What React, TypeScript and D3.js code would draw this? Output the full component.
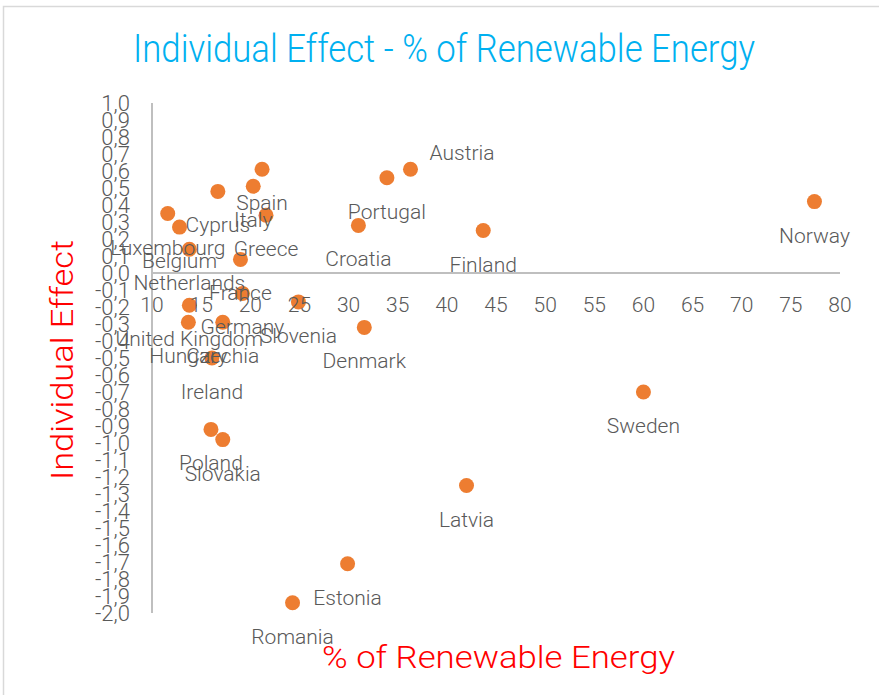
import React from "react";
import * as d3 from "d3";

const countries = [
  "Austria", "Portugal", "Croatia", "Finland", "Norway", "Sweden", "Latvia",
  "Estonia", "Romania", "Denmark", "Slovenia", "Poland", "Slovakia", "Ireland",
  "Hungary", "Czechia", "United Kingdom", "Germany", "France", "Netherlands",
  "Belgium", "Luxembourg", "Greece", "Cyprus", "Italy", "Spain",
];
const renewableShare = [
  36.3, 33.9, 31.0, 43.7, 77.4, 60.0, 42.0,
  29.9, 24.3, 31.6, 24.9, 16.0, 17.2, 16.1,
  13.7, 17.2, 13.8, 19.2, 19.0, 13.8,
  12.8, 11.6, 21.6, 16.7, 20.3, 21.2,
];
const individualEffect = [
  0.61, 0.56, 0.28, 0.25, 0.42, -0.70, -1.25,
  -1.71, -1.94, -0.32, -0.17, -0.92, -0.98, -0.50,
  -0.29, -0.29, -0.19, -0.12, 0.08, 0.14,
  0.27, 0.35, 0.34, 0.48, 0.51, 0.61,
];
const rightLabeled = ["Austria"];
const xTicks = [10, 15, 20, 25, 30, 35, 40, 45, 50, 55, 60, 65, 70, 75, 80];
const yTicks = d3.range(-20, 11).map((i) => i / 10);

const title = "Individual Effect - % of Renewable Energy";
const xTitle = "% of Renewable Energy";
const yTitle = "Individual Effect";

const locale = d3.formatLocale({
  decimal: ",",
  thousands: ".",
  grouping: [3],
  currency: ["", "€"],
  minus: "-",
});
const fmt = locale.format(".1f");

export default function App() {
  const W = 879;
  const H = 695;
  const x = d3.scaleLinear().domain([10, 80]).range([152, 840]);
  const y = d3.scaleLinear().domain([-2, 1]).range([613, 103]);
  const font = "Roboto, 'Open Sans', sans-serif";
  const gray = "#595959";
  const points = countries.map((c, i) => ({
    name: c,
    cx: x(renewableShare[i]),
    cy: y(individualEffect[i]),
  }));

  return (
    <svg
      width={W}
      height={H}
      style={{ position: "absolute", left: 0, top: 0, background: "#fff" }}
      fontFamily={font}
    >
      <rect x={0} y={0} width={W} height={H} fill="#fff" />
      <path d={`M3.5,${H} V6.5 H${W}`} fill="none" stroke="#d9d9d9" strokeWidth={1.5} />

      <text
        x={133}
        y={62}
        fontSize={38}
        fontWeight={300}
        fill="#00B0F0"
        textLength={622}
        lengthAdjust="spacingAndGlyphs"
      >
        {title}
      </text>

      {/* axes */}
      <line x1={x(10)} x2={x(10)} y1={y(1)} y2={y(-2)} stroke="#bfbfbf" strokeWidth={2} />
      <line x1={x(10)} x2={x(80)} y1={y(0)} y2={y(0)} stroke="#bfbfbf" strokeWidth={2} />

      {/* points */}
      {points.map((p) => (
        <circle key={p.name} cx={p.cx} cy={p.cy} r={7.5} fill="#ED7D31" />
      ))}

      {/* data labels */}
      {points.map((p) => {
        const right = rightLabeled.includes(p.name);
        return (
          <text
            key={"l" + p.name}
            x={right ? p.cx + 19 : p.cx}
            y={right ? p.cy - 16 : p.cy + 34}
            fontSize={21}
            fontWeight={300}
            fill={gray}
            textAnchor={right ? "start" : "middle"}
            dominantBaseline="central"
          >
            {p.name}
          </text>
        );
      })}

      {/* tick labels */}
      {yTicks.map((t) => (
        <text
          key={"y" + t}
          x={130}
          y={y(t)}
          fontSize={22}
          fontWeight={300}
          fill={gray}
          textAnchor="end"
          dominantBaseline="central"
        >
          {fmt(t)}
        </text>
      ))}
      {xTicks.map((t) => (
        <text
          key={"x" + t}
          x={x(t)}
          y={305}
          fontSize={21}
          fontWeight={300}
          fill={gray}
          textAnchor="middle"
          dominantBaseline="central"
        >
          {t}
        </text>
      ))}

      <text
        x={322}
        y={668}
        fontSize={32}
        fontWeight={300}
        fill="#FF0000"
        textLength={353}
        lengthAdjust="spacingAndGlyphs"
      >
        {xTitle}
      </text>
      <text
        transform="translate(73,360) rotate(-90)"
        fontSize={32}
        fontWeight={300}
        fill="#FF0000"
        textAnchor="middle"
        textLength={240}
        lengthAdjust="spacingAndGlyphs"
      >
        {yTitle}
      </text>
    </svg>
  );
}
